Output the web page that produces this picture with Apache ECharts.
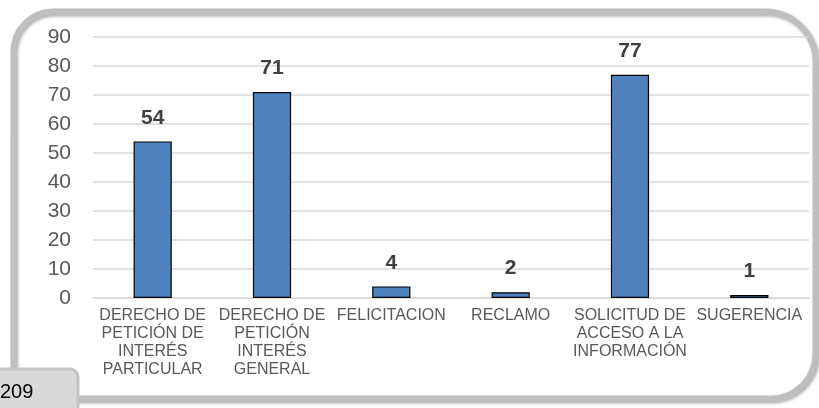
<!DOCTYPE html>
<html>
<head>
<meta charset="utf-8">
<script src="https://cdn.jsdelivr.net/npm/echarts@6/dist/echarts.min.js"></script>
<style>
html,body{margin:0;padding:0;background:#fff;}
#chart{width:819px;height:408px;}
</style>
</head>
<body>
<div id="chart"></div>
<script>
const categories = [
  "DERECHO DE\nPETICIÓN DE\nINTERÉS\nPARTICULAR",
  "DERECHO DE\nPETICIÓN\nINTERÉS\nGENERAL",
  "FELICITACION",
  "RECLAMO",
  "SOLICITUD DE\nACCESO A LA\nINFORMACIÓN",
  "SUGERENCIA"
];
const values = [54, 71, 4, 2, 77, 1];
const yMin = 0, yMax = 90, yStep = 10;
const totalLabel = "209";

const FONT = "Liberation Sans, Arial, sans-serif";
const chart = echarts.init(document.getElementById('chart'));
chart.setOption({
  animation: false,
  backgroundColor: '#ffffff',
  graphic: [
    {
      type: 'rect', z: 0, silent: true,
      shape: {x: 13.5, y: 11.5, width: 802, height: 387, r: [40, 50, 45, 22]},
      style: {fill: 'none', stroke: '#bfbfbf', lineWidth: 6,
              shadowColor: 'rgba(0,0,0,0.3)', shadowBlur: 3, shadowOffsetX: 1.5, shadowOffsetY: 2}
    },
    {
      type: 'rect', z: 5, silent: true,
      shape: {x: -10, y: 369, width: 88, height: 50, r: [0, 8, 0, 0]},
      style: {fill: '#d9d9d9', stroke: '#c3c3c3', lineWidth: 3}
    },
    {
      type: 'text', z: 6, silent: true,
      left: 0, top: 382,
      style: {text: totalLabel, font: '20px ' + FONT, fill: '#000000'}
    }
  ],
  grid: {left: 93, right: 10, top: 37, bottom: 110, containLabel: false},
  xAxis: {
    type: 'category',
    data: categories,
    axisLine: {show: true, lineStyle: {color: '#d9d9d9', width: 1.5}},
    axisTick: {show: false},
    axisLabel: {
      interval: 0, margin: 9, color: '#595959',
      fontFamily: FONT, fontSize: 16, lineHeight: 18, align: 'center'
    }
  },
  yAxis: {
    type: 'value',
    min: yMin, max: yMax, interval: yStep,
    axisLine: {show: false},
    axisTick: {show: false},
    splitLine: {lineStyle: {color: '#d9d9d9', width: 1.5}},
    axisLabel: {margin: 22, color: '#595959', fontFamily: FONT, fontSize: 21}
  },
  series: [{
    type: 'bar',
    data: values,
    barWidth: '32%',
    itemStyle: {color: '#4f81bd', borderColor: '#000000', borderWidth: 1.2},
    label: {
      show: true, position: 'top', distance: 13,
      color: '#404040', fontFamily: FONT, fontSize: 21, fontWeight: 'bold'
    }
  }]
});
</script>
</body>
</html>
